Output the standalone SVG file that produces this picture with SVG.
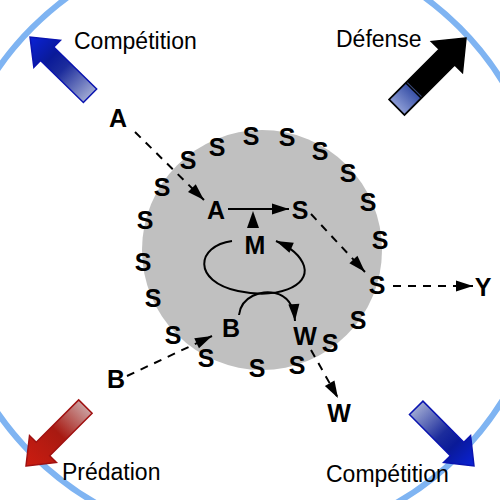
<svg xmlns="http://www.w3.org/2000/svg" width="500" height="500" viewBox="0 0 500 500">
<style>
.lbl{font-family:"Liberation Sans",Arial,sans-serif;font-size:23px;fill:#000}
.n{font-family:"Liberation Sans",Arial,sans-serif;font-size:25px;font-weight:bold;fill:#000;text-anchor:middle}
.d{fill:none;stroke:#000;stroke-width:2;stroke-dasharray:8,7}
.s{fill:none;stroke:#000;stroke-width:2}
</style>
<defs>
<marker id="ah" markerUnits="userSpaceOnUse" markerWidth="17" markerHeight="11" refX="17" refY="5.5" orient="auto" overflow="visible">
<path d="M0,0 L17,5.5 L0,11 z" fill="#000"/>
</marker>
<linearGradient id="gb" x1="0" y1="0" x2="1" y2="0">
<stop offset="0" stop-color="#9ea8d2"/>
<stop offset="0.45" stop-color="#1c2c9c"/>
<stop offset="0.65" stop-color="#0a1a98"/>
<stop offset="1" stop-color="#0a22d8"/>
</linearGradient>
<linearGradient id="gr" x1="0" y1="0" x2="1" y2="0">
<stop offset="0" stop-color="#caa0a0"/>
<stop offset="0.45" stop-color="#a81a12"/>
<stop offset="1" stop-color="#cc1c10"/>
</linearGradient>
<linearGradient id="gk" x1="0" y1="0" x2="1" y2="0">
<stop offset="0" stop-color="#8a9ad4"/>
<stop offset="1" stop-color="#3a52a8"/>
</linearGradient>
<path id="arr" d="M0,0 L-24,-19 L-24,-9.5 L-84,-9.5 L-84,9.5 L-24,9.5 L-24,19 z"/>
</defs>

<circle cx="246" cy="241" r="302" fill="none" stroke="#7fb4f2" stroke-width="6"/>
<circle cx="262" cy="250" r="120" fill="#c0c0c0"/>

<g id="arrow-competition-tl">
<path d="M0,0 L-24,-19 L-24,-9.5 L-84,-9.5 L-84,9.5 L-24,9.5 L-24,19 z" transform="translate(30,37) rotate(-135.6)" fill="url(#gb)" stroke="#0a14b0" stroke-width="1.5"/>
<text class="lbl" x="74" y="49">Compétition</text>
</g>
<g id="arrow-defense">
<g transform="translate(466,38) rotate(-45)">
<path d="M0,0 L-27,-22 L-27,-11 L-98,-11 L-98,11 L-27,11 L-27,22 z" fill="#000" stroke="#000" stroke-width="1.5"/>
<rect x="-97" y="-10" width="22" height="20" fill="url(#gk)"/>
<line x1="-73" y1="-10" x2="-73" y2="10" stroke="#3a4a7a" stroke-width="1"/>
</g>
<text class="lbl" x="336" y="47">Défense</text>
</g>
<g id="arrow-predation">
<path d="M0,0 L-24,-19 L-24,-9.5 L-84,-9.5 L-84,9.5 L-24,9.5 L-24,19 z" transform="translate(26,466) rotate(135)" fill="url(#gr)" stroke="#a01010" stroke-width="1.5"/>
<text class="lbl" x="62" y="480">Prédation</text>
</g>
<g id="arrow-competition-br">
<path d="M0,0 L-24,-19 L-24,-9.5 L-82,-9.5 L-82,9.5 L-24,9.5 L-24,19 z" transform="translate(474,466) rotate(45.2)" fill="url(#gb)" stroke="#0a14b0" stroke-width="1.5"/>
<text class="lbl" x="326" y="482">Compétition</text>
</g>

<g id="connectors">
<path class="d" d="M135,132 L204,200" marker-end="url(#ah)"/>
<path class="s" d="M228,209 L289,209" marker-end="url(#ah)"/>
<polygon points="253,211 247,228 259,228" fill="#000"/>
<path class="d" d="M311,214 L365,272" marker-end="url(#ah)"/>
<path class="d" d="M393,286 L473,286" marker-end="url(#ah)"/>
<path class="d" d="M127,376 L212,336" marker-end="url(#ah)"/>
<path class="d" d="M311,350 L338,398" marker-end="url(#ah)"/>
<path class="s" d="M232,241 C196,246 192,281 238,291 C276,299 310,287 304,266 C300,254 290,247 276,241" marker-end="url(#ah)"/>
<path class="s" d="M239,315 C241,296 262,290 275,293 C288,296 294,306 295,321" marker-end="url(#ah)"/>
</g>

<g id="ring-s">
<text class="n" x="251" y="145">S</text>
<text class="n" x="287" y="146">S</text>
<text class="n" x="320" y="160">S</text>
<text class="n" x="348" y="182">S</text>
<text class="n" x="368" y="211">S</text>
<text class="n" x="380" y="249">S</text>
<text class="n" x="358" y="329">S</text>
<text class="n" x="330" y="352">S</text>
<text class="n" x="297" y="374">S</text>
<text class="n" x="257" y="377">S</text>
<text class="n" x="206" y="367">S</text>
<text class="n" x="173" y="344">S</text>
<text class="n" x="153" y="307">S</text>
<text class="n" x="143" y="271">S</text>
<text class="n" x="145" y="229">S</text>
<text class="n" x="162" y="196">S</text>
<text class="n" x="188" y="169">S</text>
<text class="n" x="217" y="156">S</text>
</g>
<g id="node-S-out"><text class="n" x="377" y="294">S</text></g>
<g id="node-A-in"><text class="n" x="216" y="219">A</text></g>
<g id="node-S-in"><text class="n" x="300" y="219">S</text></g>
<g id="node-M"><text class="n" x="255" y="254">M</text></g>
<g id="node-B-in"><text class="n" x="231" y="337">B</text></g>
<g id="node-W-in"><text class="n" x="305" y="345">W</text></g>
<g id="node-A-out"><text class="n" x="118" y="127">A</text></g>
<g id="node-B-out"><text class="n" x="116" y="388">B</text></g>
<g id="node-W-out"><text class="n" x="339" y="422">W</text></g>
<g id="node-Y"><text class="n" x="483" y="296">Y</text></g>
</svg>
